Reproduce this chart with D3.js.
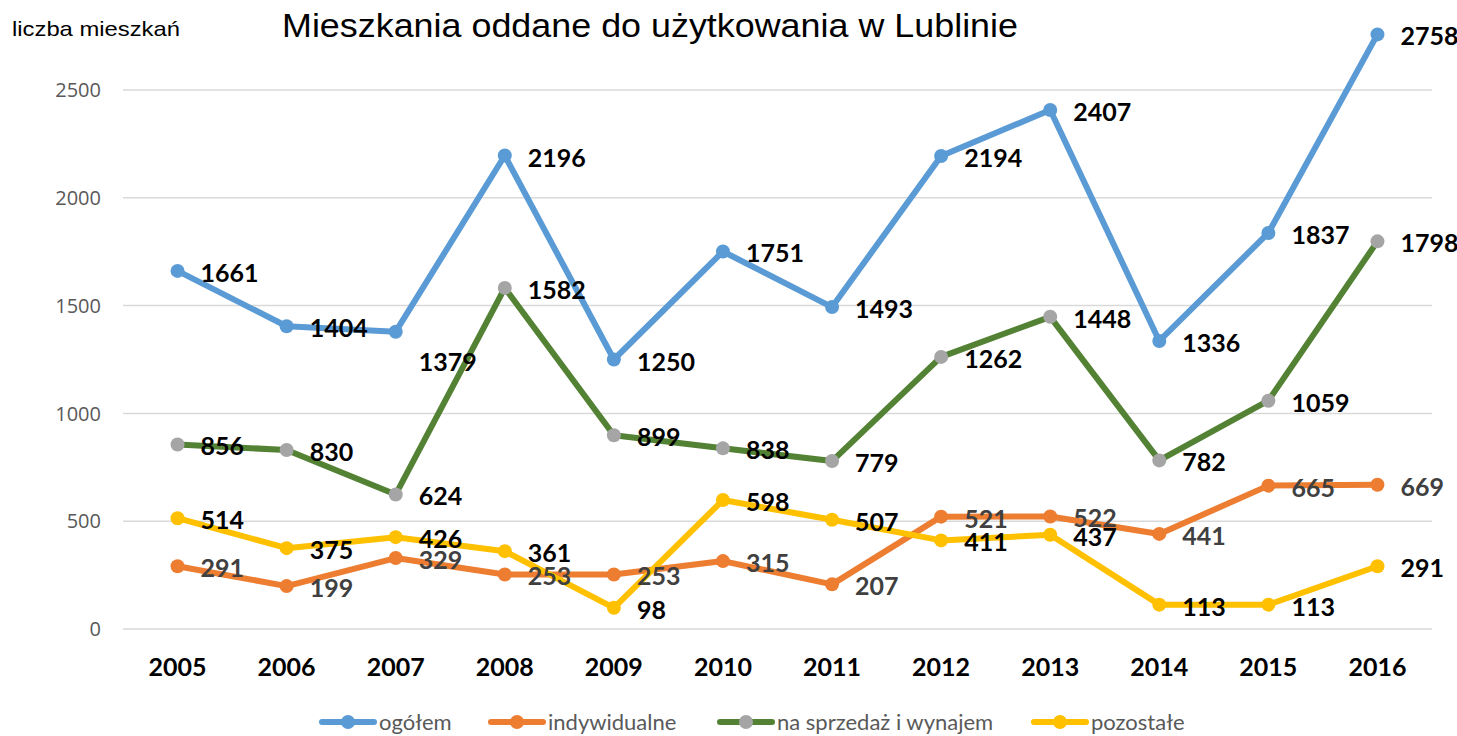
<!doctype html>
<html lang="pl">
<head>
<meta charset="utf-8">
<title>Mieszkania oddane do użytkowania w Lublinie</title>
<script src="https://d3js.org/d3.v7.min.js"></script>
<style>
  body { margin: 0; background: #fff; }
  svg { display: block; }
</style>
</head>
<body>
<svg id="chart"></svg>
<script>
// data
var years = ["2005", "2006", "2007", "2008", "2009", "2010", "2011", "2012", "2013", "2014", "2015", "2016"];
var ogolem = [1661, 1404, 1379, 2196, 1250, 1751, 1493, 2194, 2407, 1336, 1837, 2758];
var indywidualne = [291, 199, 329, 253, 253, 315, 207, 521, 522, 441, 665, 669];
var naSprzedaz = [856, 830, 624, 1582, 899, 838, 779, 1262, 1448, 782, 1059, 1798];
var pozostale = [514, 375, 426, 361, 98, 598, 507, 411, 437, 113, 113, 291];
var yTicks = [0, 500, 1000, 1500, 2000, 2500];
var seriesNames = ["ogółem", "indywidualne", "na sprzedaż i wynajem", "pozostałe"];

var series = [
  { name: seriesNames[0], values: ogolem, line: "#5b9bd5", marker: "#5b9bd5", label: "#000" },
  { name: seriesNames[1], values: indywidualne, line: "#ed7d31", marker: "#ed7d31", label: "#404040" },
  { name: seriesNames[2], values: naSprzedaz, line: "#548235", marker: "#a5a5a5", label: "#000" },
  { name: seriesNames[3], values: pozostale, line: "#ffc000", marker: "#ffc000", label: "#000" }
];

var width = 1457, height = 736;
var svg = d3.select("#chart").attr("width", width).attr("height", height);

var x = d3.scaleBand().domain(years).range([123, 1432]).padding(0);
var y = d3.scaleLinear().domain([0, 2500]).range([629, 90]);
function cx(d) { return x(d) + x.bandwidth() / 2; }

// gridlines
svg.append("g").selectAll("line")
  .data(yTicks).enter().append("line")
  .attr("x1", 123).attr("x2", 1432)
  .attr("y1", function(d) { return y(d); })
  .attr("y2", function(d) { return y(d); })
  .attr("stroke", "#d9d9d9").attr("stroke-width", 1.5);

// y axis labels
svg.append("g").selectAll("text")
  .data(yTicks).enter().append("text")
  .attr("x", 101).attr("y", function(d) { return y(d); })
  .attr("text-anchor", "end").attr("dy", "0.36em")
  .attr("font-family", "Open Sans, sans-serif").attr("font-size", 20)
  .attr("fill", "#595959")
  .text(function(d) { return d; });

// x axis labels
svg.append("g").selectAll("text")
  .data(years).enter().append("text")
  .attr("x", function(d) { return cx(d); }).attr("y", 667)
  .attr("text-anchor", "middle").attr("dy", "0.36em")
  .attr("font-family", "Lato, sans-serif").attr("font-weight", "bold").attr("font-size", 25)
  .attr("fill", "#000")
  .text(function(d) { return d; });

// lines + markers
var line = d3.line()
  .x(function(d, i) { return cx(years[i]); })
  .y(function(d) { return y(d); });

series.forEach(function(s) {
  var g = svg.append("g");
  g.append("path")
    .attr("d", line(s.values))
    .attr("fill", "none").attr("stroke", s.line)
    .attr("stroke-width", 6).attr("stroke-linejoin", "round").attr("stroke-linecap", "round");
  g.selectAll("circle")
    .data(s.values).enter().append("circle")
    .attr("cx", function(d, i) { return cx(years[i]); })
    .attr("cy", function(d) { return y(d); })
    .attr("r", 7).attr("fill", s.marker);
});

// data labels (right of point); one label was moved down in the original
var nudge = { "ogółem|2007": 28 };
series.forEach(function(s) {
  svg.append("g").selectAll("text")
    .data(s.values).enter().append("text")
    .attr("x", function(d, i) { return cx(years[i]) + 23; })
    .attr("y", function(d, i) { return y(d) + 2 + (nudge[s.name + "|" + years[i]] || 0); })
    .attr("dy", "0.36em")
    .attr("font-family", "Lato, sans-serif").attr("font-weight", "bold").attr("font-size", 25)
    .attr("fill", s.label)
    .text(function(d) { return d; });
});

// titles
svg.append("text")
  .attr("x", 282).attr("y", 37)
  .attr("font-family", "Liberation Sans, Arial, sans-serif").attr("font-size", 33)
  .attr("textLength", 736).attr("lengthAdjust", "spacingAndGlyphs")
  .attr("fill", "#000")
  .text("Mieszkania oddane do użytkowania w Lublinie");

svg.append("text")
  .attr("x", 12).attr("y", 36)
  .attr("font-family", "Liberation Sans, Arial, sans-serif").attr("font-size", 21)
  .attr("textLength", 168).attr("lengthAdjust", "spacingAndGlyphs")
  .attr("fill", "#000")
  .text("liczba mieszkań");

// legend
var legendX = [348, 517, 746, 1060];
var legend = svg.append("g").selectAll("g")
  .data(series).enter().append("g")
  .attr("transform", function(d, i) { return "translate(" + legendX[i] + ",722)"; });
legend.append("line")
  .attr("x1", -26).attr("x2", 26)
  .attr("stroke", function(d) { return d.line; })
  .attr("stroke-width", 6).attr("stroke-linecap", "round");
legend.append("circle")
  .attr("r", 7).attr("fill", function(d) { return d.marker; });
legend.append("text")
  .attr("x", 31).attr("dy", "0.36em")
  .attr("font-family", "Lato, sans-serif").attr("font-size", 22)
  .attr("fill", "#595959")
  .text(function(d) { return d.name; });
</script>
</body>
</html>
